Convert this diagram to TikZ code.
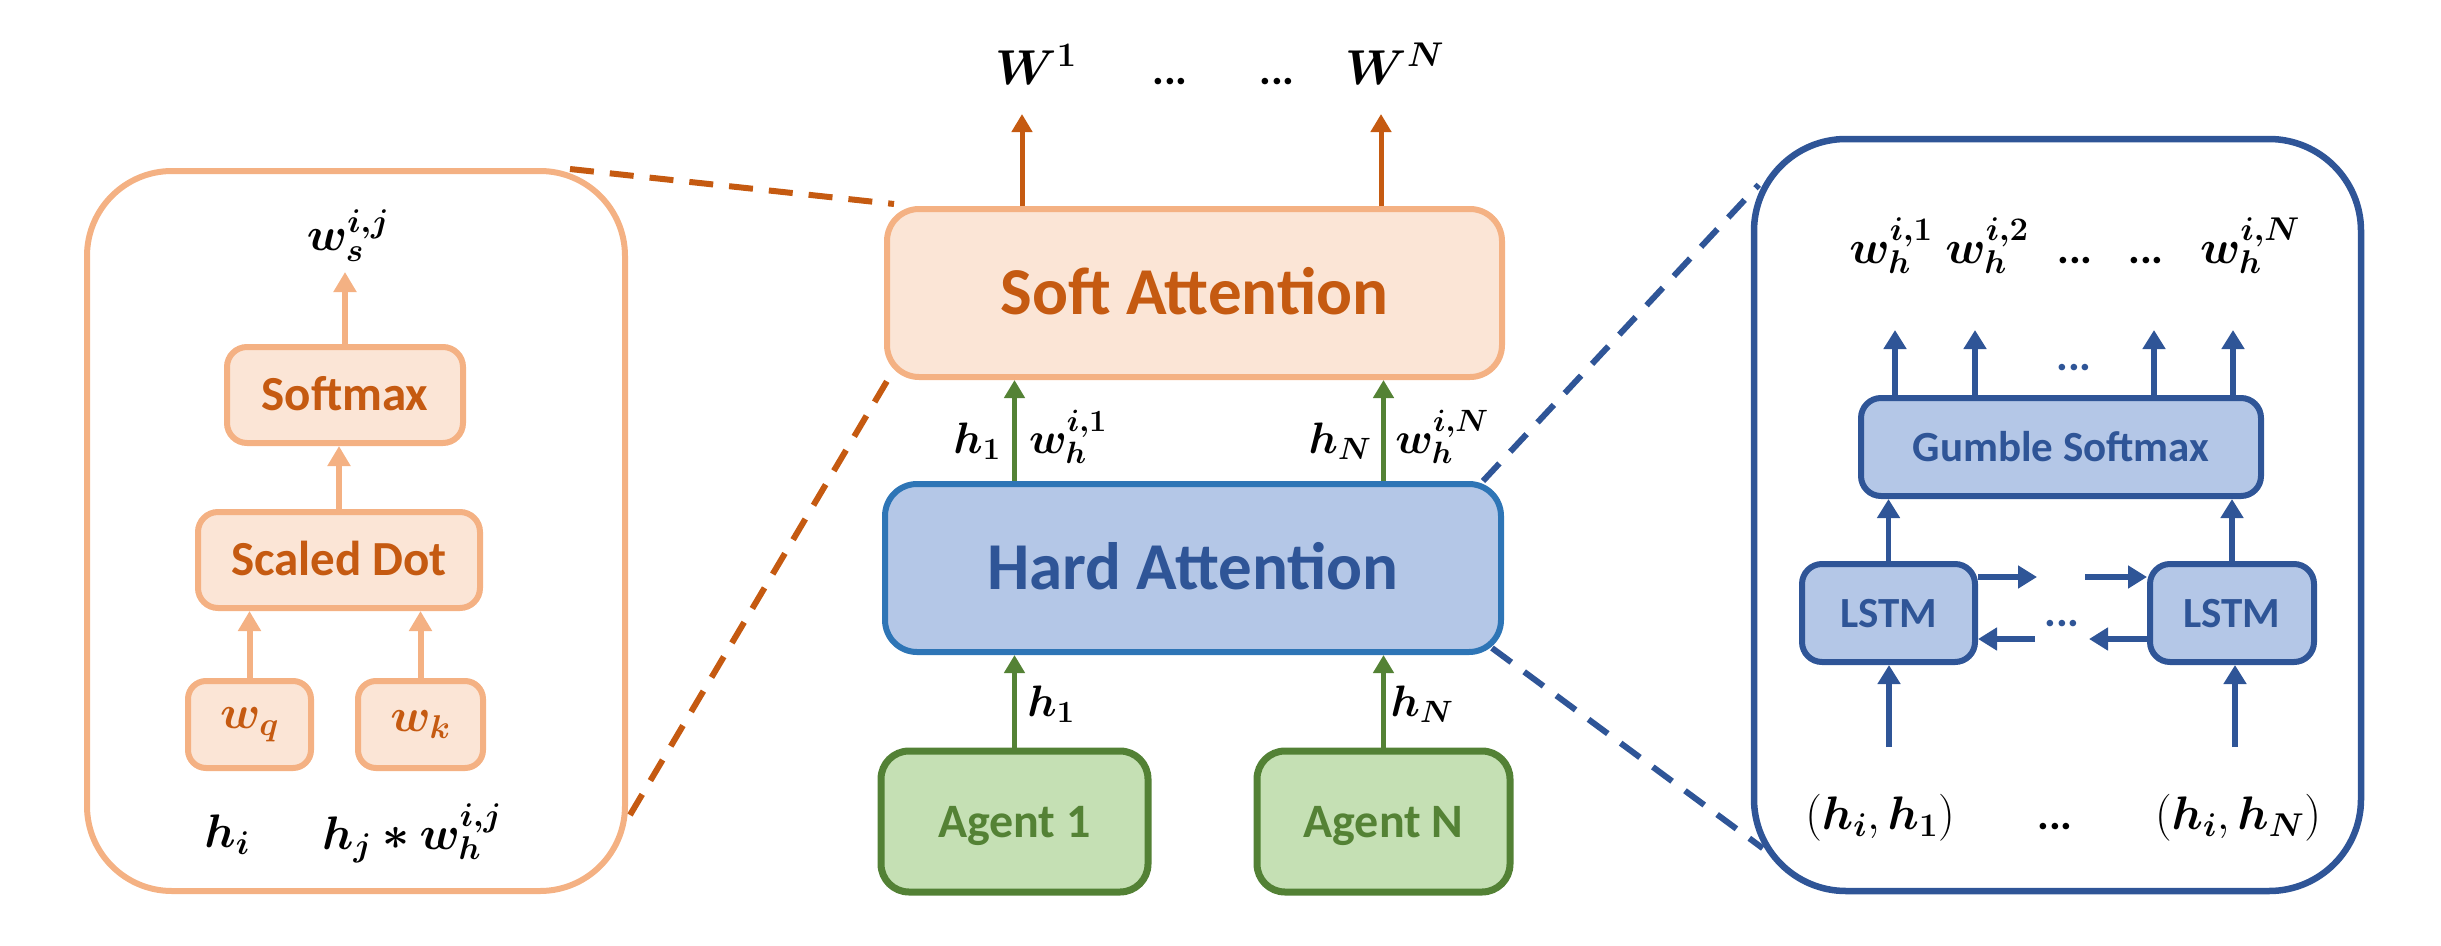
\RequirePackage{fix-cm}
\documentclass[tikz,border=0pt]{standalone}
\usepackage{amsmath}
\usepackage{bm}
\usepackage{fontspec}
\setmainfont{Carlito}
\usetikzlibrary{arrows.meta,calc}
\definecolor{orFill}{HTML}{FBE5D6}
\definecolor{orLine}{HTML}{F4B183}
\definecolor{orDark}{HTML}{C55A11}
\definecolor{blFill}{HTML}{B4C7E7}
\definecolor{blLine}{HTML}{2E75B6}
\definecolor{blDark}{HTML}{2F5597}
\definecolor{grFill}{HTML}{C5E0B4}
\definecolor{grLine}{HTML}{538135}
\definecolor{grText}{HTML}{548235}
\newcommand\szBig{\fontsize{67}{80}\selectfont}
\newcommand\szMid{\fontsize{49}{59}\selectfont}
\newcommand\szAg{\fontsize{48}{58}\selectfont}
\newcommand\szSm{\fontsize{43}{52}\selectfont}
\newcommand\szMath{\fontsize{44}{53}\selectfont}
\newcommand\szMathR{\fontsize{47}{56}\selectfont}
\newcommand\szMathW{\fontsize{49}{59}\selectfont}
\begin{document}
\begin{tikzpicture}[x=1pt,y=-1pt,
  box/.style={rectangle, inner sep=0pt, align=center},
  orbox/.style={box, draw=orLine, fill=orFill, text=orDark, line width=6pt},
  hardbox/.style={box, draw=blLine, fill=blFill, text=blDark, line width=6pt},
  bbox/.style={box, draw=blDark, fill=blFill, text=blDark, line width=6pt, rounded corners=20pt, font=\bfseries\szSm, text height=28pt, text depth=0pt},
  grbox/.style={box, draw=grLine, fill=grFill, text=grText, line width=7pt, rounded corners=28pt, font=\bfseries\szAg, text height=31pt, text depth=0pt},
  lbl/.style={inner sep=0pt, anchor=base, font=\szMath},
  oarrow/.style={draw=orDark, line width=5pt, -{Triangle[length=18pt,width=20pt]}},
  parrow/.style={draw=orLine, line width=6pt, -{Triangle[length=20pt,width=22pt]}},
  garrow/.style={draw=grText, line width=4.5pt, -{Triangle[length=18pt,width=20pt]}},
  barrow/.style={draw=blDark, line width=5.5pt, -{Triangle[length=19pt,width=22pt]}},
  odash/.style={draw=orDark, line width=6pt, dash pattern=on 24pt off 16pt},
  bdash/.style={draw=blDark, line width=6pt, dash pattern=on 24pt off 16pt}
]
\useasboundingbox (0,0) rectangle (2441,945);

% ---------- left panel ----------
\node[box, draw=orLine, line width=6pt, rounded corners=85pt, minimum width=538pt, minimum height=720pt] (leftbox) at (356,531) {};
\node[orbox, rounded corners=20pt, minimum width=236pt, minimum height=96pt, font=\bfseries\szMid, text height=31pt, text depth=0pt] (softmax) at (345,395) {Softmax};
\node[orbox, rounded corners=20pt, minimum width=282pt, minimum height=96pt, font=\bfseries\szMid, text height=31pt, text depth=0pt] (scaled) at (339,560) {Scaled Dot};
\node[orbox, rounded corners=18pt, minimum width=123pt, minimum height=87pt, font=\szMathR] (wq) at (249.5,724.5) {$\bm{w_q}$};
\node[orbox, rounded corners=18pt, minimum width=125pt, minimum height=87pt, font=\szMathR] (wk) at (420.5,724.5) {$\bm{w_k}$};
\coordinate (wsTip) at (344,272);
\draw[parrow] (wq.north) -- (wq.north |- scaled.south);
\draw[parrow] (wk.north) -- (wk.north |- scaled.south);
\draw[parrow] (scaled.north) -- (scaled.north |- softmax.south);
\draw[parrow] (softmax.north) -- (softmax.north |- wsTip);
\node[lbl, font=\szMathR] (ws) at (348,250) {$\bm{w_s^{i,j}}$};
\node[lbl, font=\szMathR] (hi) at (227,847) {$\bm{h_i}$};
\node[lbl, font=\szMathR] (hj) at (412,849) {$\bm{h_j * w_h^{i,j}}$};

% ---------- centre ----------
\node[orbox, rounded corners=32pt, minimum width=615pt, minimum height=168pt, font=\bfseries\szBig, text height=43pt, text depth=0pt] (soft) at (1194.5,293) {Soft Attention};
\node[hardbox, rounded corners=32pt, minimum width=616pt, minimum height=168pt, font=\bfseries\szBig, text height=43pt, text depth=0pt] (hard) at (1193,568) {Hard Attention};
\node[grbox, minimum width=267pt, minimum height=141pt] (ag1) at (1014.5,821.5) {Agent 1};
\node[grbox, minimum width=253pt, minimum height=141pt] (agN) at (1383.5,821.5) {Agent N};

\coordinate (ot1) at (1022,114);
\coordinate (otN) at (1381,114);
\draw[oarrow] (soft.north -| ot1) -- (ot1);
\draw[oarrow] (soft.north -| otN) -- (otN);
\draw[garrow] (hard.north -| ag1) -- (soft.south -| ag1);
\draw[garrow] (hard.north -| agN) -- (soft.south -| agN);
\draw[garrow] (ag1.north) -- (ag1.north |- hard.south);
\draw[garrow] (agN.north) -- (agN.north |- hard.south);

\node[lbl, font=\szMathW] (W1) at (1036,84) {$\bm{W^1}$};
\node[lbl] (td1) at (1170,84) {\textbf{...}};
\node[lbl] (td2) at (1277,84) {\textbf{...}};
\node[lbl, font=\szMathW] (WN) at (1395,84) {$\bm{W^N}$};

\node[lbl] (h1a) at (977,453) {$\bm{h_1}$};
\node[lbl] (w1a) at (1068,453) {$\bm{w_h^{i,1}}$};
\node[lbl] (hNa) at (1340,453) {$\bm{h_N}$};
\node[lbl] (wNa) at (1442,453) {$\bm{w_h^{i,N}}$};
\node[lbl] (h1b) at (1051,716) {$\bm{h_1}$};
\node[lbl] (hNb) at (1422,716) {$\bm{h_N}$};

% ---------- right panel ----------
\node[box, draw=blDark, line width=6.5pt, rounded corners=92pt, minimum width=607pt, minimum height=752pt] (rightbox) at (2057.5,515) {};
\node[bbox, minimum width=400pt, minimum height=98pt] (gumble) at (2061,447) {Gumble Softmax};
\node[bbox, minimum width=173pt, minimum height=98pt] (lstm1) at (1888.5,613) {LSTM};
\node[bbox, minimum width=164pt, minimum height=98pt] (lstm2) at (2232,613) {LSTM};

\node[lbl, font=\szMathR] (o1) at (1891,263) {$\bm{w_h^{i,1}}$};
\node[lbl, font=\szMathR] (o2) at (1987,263) {$\bm{w_h^{i,2}}$};
\node[lbl] (od1) at (2075,263) {\textbf{...}};
\node[lbl] (od2) at (2146,263) {\textbf{...}};
\node[lbl, font=\szMathR] (oN) at (2250,263) {$\bm{w_h^{i,N}}$};

\coordinate (g1) at (1895,330);
\coordinate (g2) at (1975,330);
\coordinate (g3) at (2154,330);
\coordinate (g4) at (2233,330);
\draw[barrow] (gumble.north -| g1) -- (g1);
\draw[barrow] (gumble.north -| g2) -- (g2);
\draw[barrow] (gumble.north -| g3) -- (g3);
\draw[barrow] (gumble.north -| g4) -- (g4);
\node[lbl, text=blDark] (gd) at (2074,370) {\textbf{...}};

\draw[barrow] (lstm1.north) -- (lstm1.north |- gumble.south);
\draw[barrow] (lstm2.north) -- (lstm2.north |- gumble.south);

\coordinate (r1) at (2037,577);
\coordinate (r2) at (2085,577);
\coordinate (l1) at (2089,639);
\coordinate (l2) at (2035,639);
\draw[barrow] (lstm1.east |- r1) -- (r1);
\draw[barrow] (r2) -- (lstm2.west |- r2);
\draw[barrow] (lstm2.west |- l1) -- (l1);
\draw[barrow] (l2) -- (lstm1.east |- l2);
\node[lbl, text=blDark] (md) at (2062,626) {\textbf{...}};

\coordinate (in1) at (1889,747);
\coordinate (inN) at (2235,747);
\draw[barrow] (in1) -- (in1 |- lstm1.south);
\draw[barrow] (inN) -- (inN |- lstm2.south);

\node[lbl, font=\szMathR] (p1) at (1880,829) {$(\bm{h_i},\bm{h_1})$};
\node[lbl] (pd) at (2055,829) {\textbf{...}};
\node[lbl, font=\szMathR] (pN) at (2238,829) {$(\bm{h_i},\bm{h_N})$};

% ---------- dashed zoom lines ----------
\draw[odash] ($(leftbox.north east)+(-58,1)$) -- ($(soft.north west)+(10,-2)$);
\draw[odash] ($(leftbox.south east)+(2,-79)$) -- ($(soft.south west)+(6,-4)$);
\draw[bdash] ($(hard.north east)+(-21,0)$) -- ($(rightbox.north west)+(8,49)$);
\draw[bdash] ($(hard.south east)+(-12,-7)$) -- ($(rightbox.south west)+(12,-46)$);
\end{tikzpicture}
\end{document}
